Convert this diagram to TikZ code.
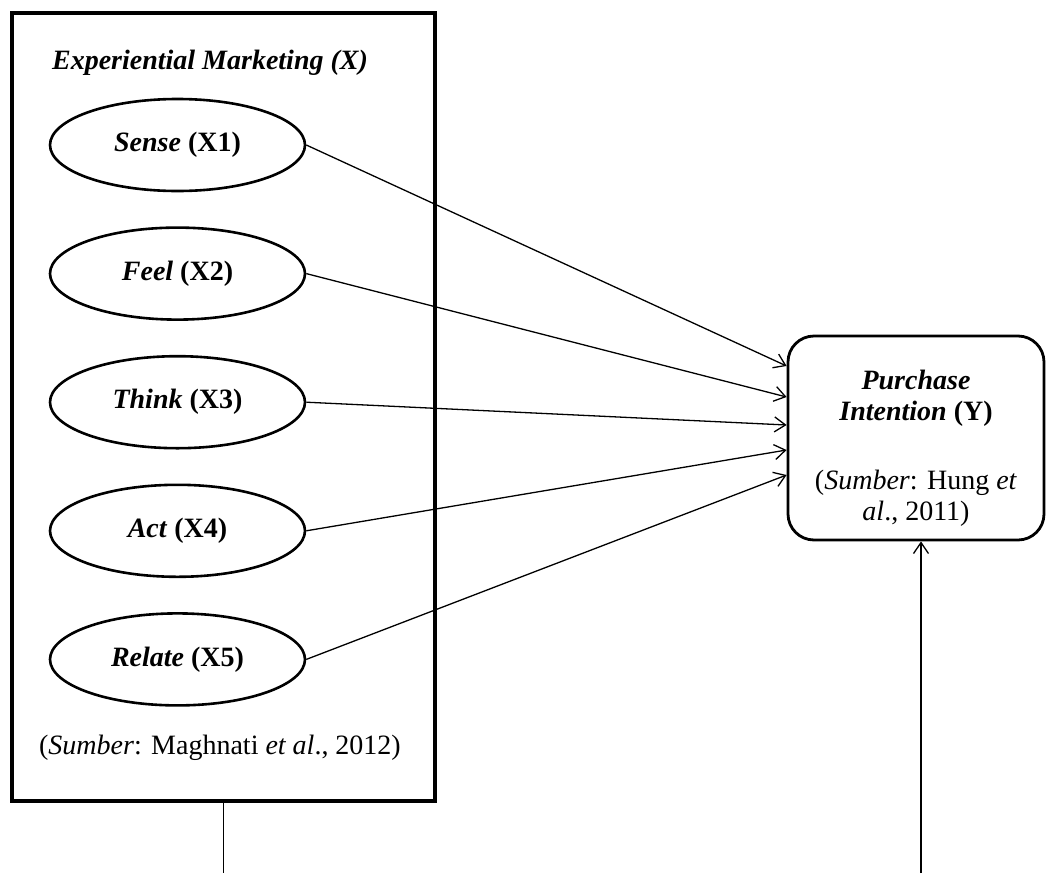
\documentclass[tikz,border=0pt]{standalone}
\usepackage{fontspec}
\setmainfont{Liberation Serif}
\usetikzlibrary{arrows.meta,positioning,shapes}
\tikzstyle{frame}=[
	rectangle,
	draw=black,
	line width=3.5,
	minimum width=423,
	minimum height=788]
\tikzstyle{dim}=[
	ellipse,
	draw=black,
	line width=2.6,
	inner sep=0,
	minimum width=255,
	minimum height=92]
\tikzstyle{target}=[
	rectangle,
	draw=black,
	line width=2.8,
	rounded corners=26,
	align=center,
	minimum width=256,
	minimum height=204]
\tikzstyle{link}=[
	-{Straight Barb[length=11pt,width=15pt]},
	line width=1.3]
\begin{document}
\begin{tikzpicture}[x=1pt,y=-1pt,font=\fontsize{28}{31}\selectfont]
	\useasboundingbox (0,0) rectangle (1047,873);
	\begin{scope}
		\node[frame]	(frame)	at (223.5,407)	{};
		\node	(titlex)	at (210,63)	{\textbf{\textit{Experiential Marketing (X)}}};
		\node	(srcx)	at (220,748)	{(\textit{Sumber}: Maghnati \textit{et al}., 2012)};
	\end{scope}
	\begin{scope}[node distance=34pt]
		\node[dim]	(sense)	at (177.5,145)	{\textbf{\textit{Sense} (X1)}};
		\node[dim]	(feel)	[below=of sense]	{\textbf{\textit{Feel} (X2)}};
		\node[dim]	(think)	[below=of feel]	{\textbf{\textit{Think} (X3)}};
		\node[dim]	(act)	[below=of think]	{\textbf{\textit{Act} (X4)}};
		\node[dim]	(relate)	[below=of act]	{\textbf{\textit{Relate} (X5)}};
	\end{scope}
	\begin{scope}
		\node[target]	(purchase)	at (916,438)
		{\rule{0pt}{40pt}\textbf{\textit{Purchase}}\\\textbf{\textit{Intention} (Y)}\\[38pt](\textit{Sumber}: Hung \textit{et}\\\textit{al}., 2011)};
	\end{scope}
	% panah dimensi ke purchase intention
	\draw[link]	(sense.east) -- ([yshift=72pt]purchase.west);
	\draw[link]	(feel.east) -- ([yshift=41pt]purchase.west);
	\draw[link]	(think.east) -- ([yshift=13pt]purchase.west);
	\draw[link]	(act.east) -- ([yshift=-12pt]purchase.west);
	\draw[link]	(relate.east) -- ([yshift=-37pt]purchase.west);
	% garis bawah
	\coordinate	(endl)	at (223.5,873);
	\coordinate	(endr)	at (921,873);
	\draw[line width=1.5]	(frame.south) -- (endl);
	\draw[link]	(endr) -- (endr |- purchase.south);
\end{tikzpicture}
\end{document}
